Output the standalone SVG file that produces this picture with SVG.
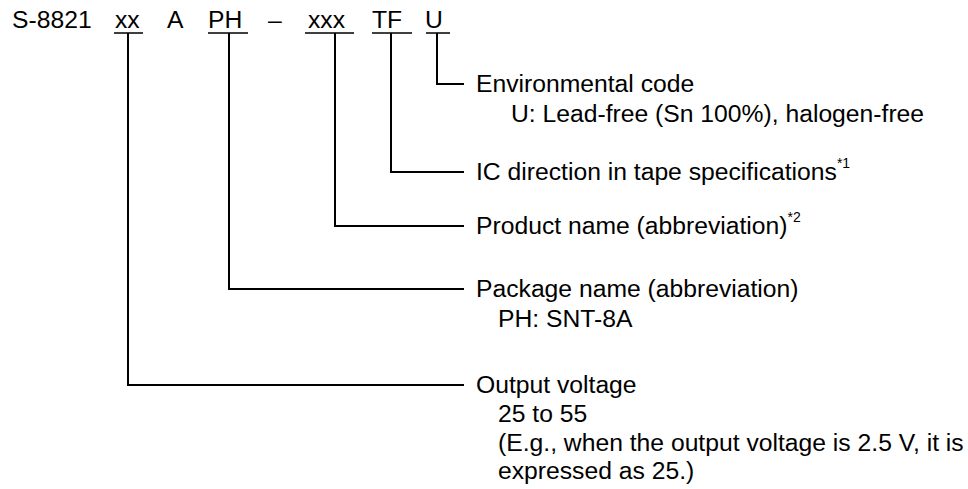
<svg xmlns="http://www.w3.org/2000/svg" width="968" height="489" viewBox="0 0 968 489">
<style>
text{font-family:"Liberation Sans",Arial,sans-serif;font-size:24.7px;fill:#000}
.sup{font-size:14px}
.ln{fill:none;stroke:#000;stroke-width:2}
.ul{fill:none;stroke:#000;stroke-width:1.6}
</style>
<rect width="968" height="489" fill="#fff"/>
<g id="code">
<text x="12" y="28">S-8821</text>
<text x="115" y="28">xx</text>
<text x="167" y="28">A</text>
<text x="208" y="28">PH</text>
<text x="268" y="28">–</text>
<text x="308" y="28">xxx</text>
<text x="372" y="28">TF</text>
<text x="425" y="28">U</text>
<path class="ul" d="M114 33H143M208 33H248M305 33H354M372 33H412M426 33H450"/>
</g>
<g id="connectors">
<path class="ln" d="M437 33V84H464"/>
<path class="ln" d="M391 33V172H464"/>
<path class="ln" d="M335 33V226H464"/>
<path class="ln" d="M229 33V289H464"/>
<path class="ln" d="M128 33V385H464"/>
</g>
<g id="env">
<text x="476" y="92">Environmental code</text>
<text x="511" y="122">U: Lead-free (Sn 100%), halogen-free</text>
</g>
<g id="ic">
<text x="476" y="180">IC direction in tape specifications<tspan class="sup" dy="-12">*1</tspan></text>
</g>
<g id="product">
<text x="476" y="234">Product name (abbreviation)<tspan class="sup" dy="-12">*2</tspan></text>
</g>
<g id="package">
<text x="476" y="297">Package name (abbreviation)</text>
<text x="498" y="327">PH: SNT-8A</text>
</g>
<g id="output">
<text x="476" y="393">Output voltage</text>
<text x="498" y="422">25 to 55</text>
<text x="498" y="451">(E.g., when the output voltage is 2.5 V, it is</text>
<text x="498" y="479">expressed as 25.)</text>
</g>
</svg>
